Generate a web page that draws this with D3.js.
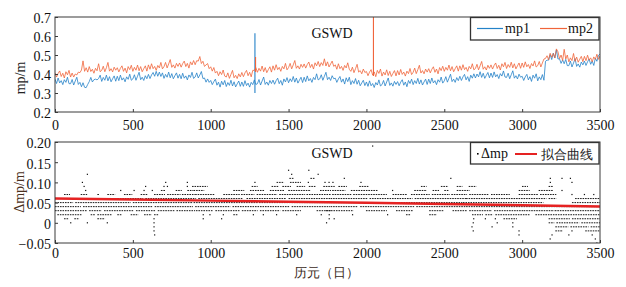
<!DOCTYPE html>
<html><head><meta charset="utf-8">
<script src="https://cdn.jsdelivr.net/npm/d3@7"></script>
<style>
body{margin:0;background:#fff;}
svg{display:block;}
text{font-family:"Liberation Serif","Times New Roman",serif;}
</style></head>
<body>
<svg id="chart" width="626" height="287"></svg>
<script>
// ---------- data ----------
const dayStep = 10;            // mp series sampled every 10 days, day 0 .. 3500
const mp1 = [
0.373,0.350,0.379,0.353,0.365,0.344,0.370,0.356,0.383,0.349,
0.349,0.371,0.342,0.363,0.383,0.345,0.356,0.333,0.354,0.330,
0.328,0.345,0.360,0.382,0.358,0.370,0.373,0.369,0.376,0.394,
0.361,0.382,0.367,0.394,0.364,0.386,0.359,0.375,0.390,0.362,
0.388,0.365,0.394,0.368,0.380,0.359,0.385,0.372,0.399,0.367,
0.374,0.396,0.367,0.388,0.409,0.370,0.383,0.366,0.391,0.375,
0.398,0.376,0.395,0.408,0.388,0.414,0.388,0.410,0.387,0.406,
0.377,0.398,0.383,0.410,0.380,0.402,0.375,0.391,0.406,0.378,
0.398,0.375,0.404,0.378,0.390,0.369,0.395,0.382,0.409,0.377,
0.384,0.406,0.379,0.395,0.413,0.376,0.379,0.357,0.374,0.356,
0.366,0.344,0.360,0.373,0.341,0.357,0.331,0.362,0.343,0.366,
0.334,0.355,0.340,0.367,0.337,0.359,0.332,0.348,0.363,0.335,
0.358,0.335,0.365,0.339,0.352,0.331,0.356,0.344,0.369,0.345,
0.349,0.371,0.342,0.363,0.384,0.345,0.358,0.341,0.366,0.350,
0.368,0.346,0.365,0.378,0.349,0.366,0.341,0.374,0.358,0.381,
0.354,0.375,0.360,0.387,0.357,0.379,0.352,0.368,0.383,0.355,
0.383,0.360,0.390,0.364,0.376,0.356,0.382,0.370,0.401,0.369,
0.374,0.396,0.367,0.388,0.409,0.370,0.383,0.366,0.391,0.375,
0.378,0.356,0.374,0.387,0.357,0.374,0.347,0.380,0.360,0.383,
0.344,0.365,0.350,0.376,0.346,0.367,0.338,0.353,0.367,0.339,
0.358,0.335,0.364,0.338,0.350,0.329,0.355,0.342,0.369,0.337,
0.344,0.366,0.337,0.358,0.379,0.340,0.353,0.336,0.361,0.345,
0.360,0.338,0.357,0.370,0.341,0.358,0.333,0.366,0.350,0.373,
0.344,0.365,0.350,0.377,0.347,0.369,0.342,0.358,0.373,0.345,
0.373,0.350,0.379,0.353,0.365,0.344,0.370,0.357,0.384,0.352,
0.364,0.386,0.357,0.378,0.399,0.360,0.373,0.356,0.381,0.365,
0.388,0.366,0.385,0.398,0.369,0.386,0.361,0.394,0.378,0.401,
0.379,0.400,0.385,0.412,0.382,0.404,0.377,0.393,0.408,0.380,
0.405,0.382,0.411,0.385,0.397,0.376,0.402,0.389,0.416,0.384,
0.382,0.404,0.375,0.396,0.417,0.378,0.391,0.374,0.399,0.383,
0.388,0.366,0.385,0.398,0.369,0.386,0.361,0.394,0.378,0.401,
0.364,0.385,0.370,0.397,0.367,0.467,0.473,0.473,0.502,0.476,
0.510,0.484,0.527,0.479,0.480,0.456,0.474,0.454,0.477,0.444,
0.444,0.468,0.437,0.458,0.481,0.440,0.453,0.436,0.463,0.448,
0.468,0.445,0.464,0.479,0.451,0.468,0.445,0.483,0.467,0.498,
0.505];
const mp2 = [
0.406,0.384,0.403,0.416,0.387,0.404,0.379,0.412,0.396,0.419,
0.384,0.405,0.384,0.400,0.395,0.410,0.407,0.421,0.469,0.414,
0.433,0.410,0.439,0.413,0.425,0.404,0.430,0.417,0.454,0.412,
0.419,0.441,0.412,0.433,0.461,0.415,0.428,0.411,0.436,0.420,
0.433,0.411,0.430,0.443,0.414,0.431,0.406,0.439,0.423,0.446,
0.414,0.435,0.420,0.447,0.417,0.439,0.412,0.428,0.443,0.415,
0.448,0.425,0.454,0.428,0.440,0.419,0.445,0.432,0.461,0.427,
0.439,0.461,0.432,0.453,0.476,0.435,0.448,0.431,0.456,0.440,
0.458,0.436,0.455,0.468,0.439,0.456,0.431,0.464,0.448,0.471,
0.449,0.470,0.468,0.492,0.455,0.467,0.440,0.448,0.455,0.428,
0.438,0.415,0.434,0.405,0.414,0.391,0.412,0.397,0.421,0.389,
0.384,0.406,0.377,0.398,0.419,0.380,0.393,0.376,0.401,0.385,
0.408,0.386,0.406,0.419,0.391,0.409,0.385,0.419,0.419,0.433,
0.409,0.430,0.415,0.442,0.412,0.434,0.407,0.423,0.438,0.410,
0.443,0.420,0.449,0.423,0.435,0.414,0.440,0.427,0.456,0.422,
0.434,0.456,0.427,0.448,0.471,0.430,0.443,0.426,0.451,0.435,
0.453,0.431,0.450,0.463,0.434,0.451,0.426,0.459,0.443,0.466,
0.439,0.460,0.445,0.480,0.442,0.464,0.437,0.453,0.468,0.440,
0.448,0.425,0.454,0.428,0.440,0.419,0.445,0.432,0.459,0.425,
0.414,0.436,0.407,0.428,0.451,0.410,0.418,0.401,0.426,0.408,
0.413,0.391,0.410,0.423,0.394,0.411,0.386,0.419,0.403,0.426,
0.389,0.410,0.395,0.422,0.392,0.414,0.387,0.403,0.418,0.390,
0.418,0.395,0.424,0.398,0.410,0.389,0.415,0.402,0.429,0.397,
0.409,0.431,0.402,0.423,0.446,0.405,0.418,0.401,0.426,0.410,
0.428,0.406,0.425,0.438,0.409,0.426,0.401,0.434,0.418,0.441,
0.414,0.435,0.420,0.447,0.417,0.439,0.412,0.428,0.443,0.415,
0.443,0.420,0.449,0.423,0.435,0.414,0.440,0.427,0.454,0.422,
0.429,0.451,0.422,0.443,0.466,0.425,0.438,0.421,0.446,0.430,
0.448,0.426,0.445,0.458,0.429,0.446,0.421,0.454,0.438,0.461,
0.429,0.450,0.435,0.462,0.432,0.454,0.427,0.443,0.458,0.430,
0.458,0.435,0.464,0.438,0.450,0.429,0.455,0.442,0.469,0.437,
0.444,0.466,0.437,0.458,0.479,0.482,0.496,0.475,0.509,0.488,
0.508,0.485,0.532,0.517,0.481,0.500,0.471,0.530,0.479,0.500,
0.464,0.485,0.470,0.508,0.467,0.489,0.462,0.478,0.493,0.465,
0.493,0.470,0.499,0.473,0.485,0.464,0.490,0.477,0.504,0.477,
0.495];
// single-day outliers: [day, low, high]
const mp1Spikes = [[1284,0.300,0.615]];
const mp2Spikes = [[1288,0.410,0.490],[2045,0.390,0.750]];

// Δmp: runs of consecutive days at a quantised level [level, firstDay, lastDay]
const dmpRuns = [
[0.06,0,60],[0.06,90,300],[0.06,320,560],[0.06,580,900],[0.06,920,1200],[0.06,1230,1480],[0.06,1500,1760],
[0.06,1770,2000],[0.06,2020,2290],[0.06,2310,2640],[0.06,2640,3150],[0.06,3170,3213],[0.06,3340,3490],
[0.05,0,110],[0.05,130,480],[0.05,500,880],[0.05,890,1300],[0.05,1310,1760],[0.05,1770,2100],[0.05,2110,2610],
[0.05,2620,3130],[0.05,3320,3500],
[0.04,0,160],[0.04,180,620],[0.04,640,880],[0.04,900,1120],[0.04,1140,1500],[0.04,1520,1760],[0.04,1770,1940],
[0.04,1960,2300],[0.04,2320,2630],[0.04,2640,3500],
[0.03,0,200],[0.03,219,294],[0.03,315,497],[0.03,520,640],[0.03,660,760],[0.03,780,893],[0.03,905,1010],
[0.03,1030,1180],[0.03,1200,1295],[0.03,1316,1440],[0.03,1460,1573],[0.03,1680,1766],[0.03,1740,1911],
[0.03,1997,2125],[0.03,2190,2296],[0.03,2403,2489],[0.03,2553,2640],[0.03,2660,2800],[0.03,2820,3000],
[0.03,3010,3200],[0.03,3210,3500],
[0.07,58,90],[0.07,165,200],[0.07,272,280],[0.07,336,380],[0.07,443,490],[0.07,550,590],[0.07,636,700],
[0.07,720,800],[0.07,815,893],[0.07,900,1017],[0.07,1081,1180],[0.07,1195,1274],[0.07,1295,1420],
[0.07,1440,1600],[0.07,1615,1766],[0.07,1780,1900],[0.07,1915,2125],[0.07,2168,2254],[0.07,2286,2400],
[0.07,2420,2530],[0.07,2545,2640],[0.07,2660,2780],[0.07,2800,2914],[0.07,2978,3100],[0.07,3115,3213],
[0.08,680,700],[0.08,775,808],[0.08,850,882],[0.08,890,952],[0.08,1145,1209],[0.08,1252,1338],
[0.08,1380,1466],[0.08,1498,1637],[0.08,1702,1766],[0.08,1780,1858],[0.08,1900,2070],[0.08,2307,2382],
[0.08,2425,2460],[0.08,2500,2520],[0.08,2580,2657],[0.08,2978,3042],[0.08,3106,3192],
[0.09,880,974],[0.09,1263,1295],[0.09,1391,1430],[0.09,1460,1509],[0.09,1552,1600],[0.09,1630,1670],
[0.09,1723,1790],[0.09,1820,1868],[0.09,1954,2007],[0.09,2350,2380],[0.09,2478,2520],[0.09,2580,2610],
[0.09,2657,2700],[0.09,2999,3031],[0.09,3170,3192],
[0.10,1423,1465],[0.10,1509,1573],
[0.11,1505,1530],[0.11,1640,1660],
[0.02,15,165],[0.02,229,250],[0.02,272,358],[0.02,400,422],[0.02,486,529],[0.02,572,615],[0.02,636,657],
[0.02,1145,1166],[0.02,2254,2275],[0.02,2403,2446],[0.02,2678,2742],[0.02,2764,2807],[0.02,2828,3042],
[0.02,3085,3500],
[0.01,58,80],[0.01,124,150],[0.01,272,315],[0.01,2880,2960],[0.01,3170,3300],[0.01,3320,3500],
[0,3170,3200],[0,3220,3360],[0,3380,3500],
[-0.01,3213,3290],[-0.01,3310,3420],[-0.01,3440,3500],
[-0.02,3213,3256],[-0.02,3405,3490]
];
// Δmp: isolated days [day, level]
const dmpDots = [
[208,0.12],[176,0.10],[711,0.10],[850,0.10],[1284,0.10],[1627,0.10],[1734,0.10],[1760,0.10],[1785,0.10],
[1965,0.10],[3181,0.10],[3320,0.10],
[187,0.09],[582,0.09],[700,0.09],[722,0.09],[850,0.09],
[197,0.08],[422,0.08],[508,0.08],[572,0.08],[625,0.08],[2168,0.08],[3256,0.08],
[1500,0.13],[1630,0.13],[1520,0.12],[1690,0.12],
[1858,0.11],[2542,0.11],[3181,0.11],[3256,0.11],[3310,0.11],
[2040,0.19],[3320,0.07],[3400,0.07],[3460,0.07],
[952,0.02],[995,0.02],[1081,0.02],[1274,0.02],[1338,0.02],[1423,0.02],[1552,0.02],[1710,0.02],
[1761,0.02],[1911,0.02],[2136,0.02],
[636,0.01],[952,0.01],[1070,0.01],[1761,0.01],[1793,0.01],[2689,0.01],[2764,0.01],[2828,0.01],
[101,0],[208,0],[336,0],[636,0],[1744,0],[2686,0],[2840,0],[2940,0],
[636,-0.01],[2678,-0.01],[2807,-0.01],[2940,-0.01],
[636,-0.02],[2686,-0.02],[2980,-0.02],[3320,-0.02],
[640,-0.03],[2980,-0.03],[3192,-0.03],[3300,-0.03],[3450,-0.03],
[3180,-0.04],[3470,-0.04],[3480,-0.05]
];
// fitted curve
const fitDays = [0,500,1000,1500,2000,2500,3000,3500];
const fitVals = [0.060,0.0575,0.055,0.0522,0.0495,0.0465,0.0435,0.0405];

const xTicks = [0,500,1000,1500,2000,2500,3000,3500];
const yTopTicks = [0.2,0.3,0.4,0.5,0.6,0.7];
const yBotTicks = [-0.05,0,0.05,0.10,0.15,0.20];
const yBotLabels = ["\u22120.05","0","0.05","0.10","0.15","0.20"];

// ---------- drawing ----------
const svg = d3.select("#chart");
const L = 55, R = 600;
const x = d3.scaleLinear([0,3500],[L,R]);
const yT = d3.scaleLinear([0.2,0.7],[112,17]);
const yB = d3.scaleLinear([-0.05,0.20],[243,142]);
const frame = "#3a3a3a";
const tickFont = 14;
const blue = "#2482c8", orange = "#f0643a", red = "#e52222";

const defs = svg.append("defs");
defs.append("clipPath").attr("id","clipT").append("rect")
  .attr("x",L).attr("y",17).attr("width",R-L).attr("height",95);
defs.append("clipPath").attr("id","clipB").append("rect")
  .attr("x",L).attr("y",142).attr("width",R-L).attr("height",101);

function drawAxes(y, yTop, yBottom, yticks, ylabels, padBottom){
  const gx = svg.append("g").attr("transform",`translate(0,${yBottom})`)
    .call(d3.axisBottom(x).tickValues(xTicks).tickSize(-3).tickPadding(padBottom).tickFormat(d3.format("d")));
  gx.select(".domain").remove();
  gx.selectAll("line").attr("stroke",frame);
  gx.selectAll("text").attr("font-size",tickFont).attr("font-family","Liberation Serif").attr("fill","#111");
  const gy = svg.append("g").attr("transform",`translate(${L},0)`)
    .call(d3.axisLeft(y).tickValues(yticks).tickSize(-3).tickPadding(4)
      .tickFormat((d,i)=>ylabels[i]));
  gy.select(".domain").remove();
  gy.selectAll("line").attr("stroke",frame);
  gy.selectAll("text").attr("font-size",tickFont).attr("font-family","Liberation Serif").attr("fill","#111").attr("dy","0.42em");
  svg.append("rect").attr("x",L).attr("y",yTop).attr("width",R-L).attr("height",yBottom-yTop)
    .attr("fill","none").attr("stroke",frame).attr("stroke-width",1);
}

// ---- top panel ----
const days = mp1.map((_,i)=>i*dayStep);
const lineT = d3.line().x((d,i)=>x(days[i])).y(d=>yT(d));
const gT = svg.append("g").attr("clip-path","url(#clipT)");
gT.append("path").datum(mp1).attr("d",lineT).attr("fill","none")
  .attr("stroke",blue).attr("stroke-width",0.8).attr("stroke-linejoin","round");
gT.selectAll("line.s1").data(mp1Spikes).join("line").attr("class","s1")
  .attr("x1",d=>x(d[0])).attr("x2",d=>x(d[0])).attr("y1",d=>yT(d[1])).attr("y2",d=>yT(d[2]))
  .attr("stroke",blue).attr("stroke-width",1.1);
gT.append("path").datum(mp2).attr("d",lineT).attr("fill","none")
  .attr("stroke",orange).attr("stroke-width",0.8).attr("stroke-linejoin","round");
gT.selectAll("line.s2").data(mp2Spikes).join("line").attr("class","s2")
  .attr("x1",d=>x(d[0])).attr("x2",d=>x(d[0])).attr("y1",d=>yT(d[1])).attr("y2",d=>yT(d[2]))
  .attr("stroke",orange).attr("stroke-width",1.1);
drawAxes(yT,17,112,yTopTicks,yTopTicks.map(d3.format(".1f")),8);

svg.append("text").attr("x",332).attr("y",38).attr("text-anchor","middle")
  .attr("font-size",14).attr("fill","#111").text("GSWD");
svg.append("text").attr("transform","translate(25,78) rotate(-90)").attr("text-anchor","middle")
  .attr("font-size",14).attr("fill","#222").text("mp/m");

// legend top
svg.append("rect").attr("x",470.5).attr("y",17.5).attr("width",128.5).attr("height",22.5)
  .attr("fill","#fff").attr("stroke","#333").attr("stroke-width",1.3);
svg.append("line").attr("x1",477).attr("x2",503).attr("y1",28.5).attr("y2",28.5)
  .attr("stroke",blue).attr("stroke-width",1.2);
svg.append("text").attr("x",505).attr("y",33).attr("font-size",14).attr("fill","#111").text("mp1");
svg.append("line").attr("x1",540).attr("x2",567).attr("y1",28.5).attr("y2",28.5)
  .attr("stroke",orange).attr("stroke-width",1.2);
svg.append("text").attr("x",568).attr("y",33).attr("font-size",14).attr("fill","#111").text("mp2");

// ---- bottom panel ----
const gB = svg.append("g").attr("clip-path","url(#clipB)");
gB.selectAll("line.run").data(dmpRuns).join("line").attr("class","run")
  .attr("x1",d=>x(d[1])).attr("x2",d=>x(d[2])+1)
  .attr("y1",d=>yB(d[0])).attr("y2",d=>yB(d[0]))
  .attr("stroke","#1a1a1a").attr("stroke-width",1.0).attr("stroke-dasharray","1.6,0.9");
gB.selectAll("rect.dot").data(dmpDots).join("rect").attr("class","dot")
  .attr("x",d=>x(d[0])-0.6).attr("width",1.2)
  .attr("y",d=>yB(d[1])-0.6).attr("height",1.2).attr("fill","#111");
const fitLine = d3.line().x((d,i)=>x(fitDays[i])).y(d=>yB(d));
gB.append("path").datum(fitVals).attr("d",fitLine).attr("fill","none")
  .attr("stroke",red).attr("stroke-width",2.4);
drawAxes(yB,142,243,yBotTicks,yBotLabels,5);

svg.append("text").attr("x",332).attr("y",158).attr("text-anchor","middle")
  .attr("font-size",14).attr("fill","#111").text("GSWD");
svg.append("text").attr("transform","translate(24,192) rotate(-90)").attr("text-anchor","middle")
  .attr("font-size",14).attr("fill","#4a3020").text("\u0394mp/m");
svg.append("text").attr("x",326).attr("y",277).attr("text-anchor","middle")
  .attr("font-family","Noto Sans CJK SC").attr("font-size",12.5).attr("fill","#3a2a1a").text("历元（日）");

// legend bottom
svg.append("rect").attr("x",470.5).attr("y",142.5).attr("width",128.5).attr("height",21.5)
  .attr("fill","#fff").attr("stroke","#333").attr("stroke-width",1.3);
svg.append("rect").attr("x",477).attr("y",153).attr("width",1.6).attr("height",1.6).attr("fill","#000");
svg.append("text").attr("x",481).attr("y",158).attr("font-size",14).attr("fill","#111").text("\u0394mp");
svg.append("line").attr("x1",515).attr("x2",537).attr("y1",154).attr("y2",154)
  .attr("stroke",red).attr("stroke-width",2);
svg.append("text").attr("x",541).attr("y",159).attr("font-family","Noto Sans CJK SC")
  .attr("font-size",13).attr("fill","#222").text("拟合曲线");
</script>
</body></html>
